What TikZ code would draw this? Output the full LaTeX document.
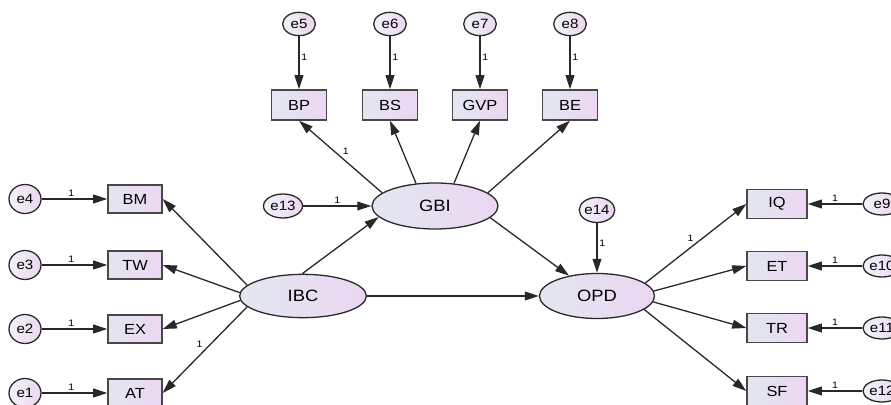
\documentclass[tikz,border=0pt]{standalone}
\usepackage{fontspec}
\setmainfont{Liberation Sans}[FakeStretch=1.12]
\usetikzlibrary{shapes,arrows.meta}
\definecolor{fillL}{RGB}{226,231,241}
\definecolor{fillR}{RGB}{236,214,241}
\definecolor{edge}{RGB}{40,40,40}
\tikzset{
	lat/.style={ellipse,draw=edge,line width=1.1pt,left color=fillL,right color=fillR,inner sep=0pt,minimum width=3.8cm,minimum height=1.3cm,font=\fontsize{14}{16}\selectfont},
	obs/.style={rectangle,draw=edge!85,line width=1.2pt,left color=fillL,right color=fillR,inner sep=0pt,minimum width=1.62cm,minimum height=0.84cm,font=\fontsize{12.5}{14}\selectfont},
	err/.style={ellipse,draw=edge,line width=1.1pt,left color=fillL!50!white,right color=fillR,inner sep=0pt,minimum width=0.96cm,minimum height=0.87cm,font=\fontsize{11.5}{13}\selectfont},
	arr/.style={-{Triangle[length=12pt,width=7.5pt]},line width=1.1pt,draw=edge},
	wt/.style={font=\fontsize{8}{9}\selectfont,inner sep=1.5pt}
}
\begin{document}
\begin{tikzpicture}[x=0.03cm,y=-0.03cm]
\useasboundingbox (0,0) rectangle (891,405);
\node[lat] (IBC) at (303,296) {IBC};
\node[lat,minimum width=3.78cm,minimum height=1.38cm] (GBI) at (435,206) {GBI};
\node[lat,minimum width=3.45cm,minimum height=1.35cm] (OPD) at (597,296) {OPD};
\node[obs] (BM) at (135,199) {BM};
\node[obs] (TW) at (135,265) {TW};
\node[obs] (EX) at (135,329) {EX};
\node[obs] (AT) at (135,393) {AT};
\node[err] (e4) at (25,199) {e4};
\node[err] (e3) at (25,265) {e3};
\node[err] (e2) at (25,329) {e2};
\node[err] (e1) at (25,393) {e1};
\node[obs,minimum width=1.65cm,minimum height=0.9cm] (BP) at (299,105) {BP};
\node[obs,minimum width=1.65cm,minimum height=0.9cm] (BS) at (390,105) {BS};
\node[obs,minimum width=1.65cm,minimum height=0.9cm] (GVP) at (480,105) {GVP};
\node[obs,minimum width=1.65cm,minimum height=0.9cm] (BE) at (570,105) {BE};
\node[err,minimum width=0.98cm,minimum height=0.7cm] (e5) at (299,24) {e5};
\node[err,minimum width=0.98cm,minimum height=0.7cm] (e6) at (390,24) {e6};
\node[err,minimum width=0.98cm,minimum height=0.7cm] (e7) at (480,24) {e7};
\node[err,minimum width=0.98cm,minimum height=0.7cm] (e8) at (570,24) {e8};
\node[err,minimum width=1.17cm,minimum height=0.72cm] (e13) at (283,206) {e13};
\node[err,minimum width=1.05cm,minimum height=0.75cm] (e14) at (597,210) {e14};
\node[obs,minimum width=1.8cm,minimum height=0.87cm] (IQ) at (777,204) {IQ};
\node[obs,minimum width=1.8cm,minimum height=0.87cm] (ET) at (777,266) {ET};
\node[obs,minimum width=1.8cm,minimum height=0.87cm] (TR) at (777,328) {TR};
\node[obs,minimum width=1.8cm,minimum height=0.87cm] (SF) at (777,391) {SF};
\node[err,minimum width=1.14cm,minimum height=0.66cm] (e9) at (882,204) {e9};
\node[err,minimum width=1.14cm,minimum height=0.66cm] (e10) at (882,266) {e10};
\node[err,minimum width=1.14cm,minimum height=0.66cm] (e11) at (882,328) {e11};
\node[err,minimum width=1.14cm,minimum height=0.66cm] (e12) at (882,391) {e12};
\draw[arr] (e4) -- node[wt,above,pos=0.45] {1} (BM);
\draw[arr] (e3) -- node[wt,above,pos=0.45] {1} (TW);
\draw[arr] (e2) -- node[wt,above,pos=0.45] {1} (EX);
\draw[arr] (e1) -- node[wt,above,pos=0.45] {1} (AT);
\draw[arr] (e5) -- node[wt,right,pos=0.4] {1} (BP);
\draw[arr] (e6) -- node[wt,right,pos=0.4] {1} (BS);
\draw[arr] (e7) -- node[wt,right,pos=0.4] {1} (GVP);
\draw[arr] (e8) -- node[wt,right,pos=0.4] {1} (BE);
\draw[arr] (e9) -- node[wt,above] {1} (IQ);
\draw[arr] (e10) -- node[wt,above] {1} (ET);
\draw[arr] (e11) -- node[wt,above] {1} (TR);
\draw[arr] (e12) -- node[wt,above] {1} (SF);
\draw[arr] (e13) -- node[wt,above] {1} (GBI);
\draw[arr] (e14) -- node[wt,right,pos=0.4] {1} (OPD);
\draw[arr] (IBC.169) -- (BM.east);
\draw[arr] (IBC.177) -- (TW.east);
\draw[arr] (IBC.184) -- (EX.east);
\draw[arr] (IBC.191) -- node[wt,above left] {1} (AT.east);
\draw[arr] (GBI.166) -- node[wt,above right] {1} (BP.south);
\draw[arr] (GBI.130) -- (BS.south);
\draw[arr] (GBI.50) -- (GVP.south);
\draw[arr] (GBI.14) -- (BE.south);
\draw[arr] (IBC.92) -- (GBI.191);
\draw[arr] (IBC) -- (OPD);
\draw[arr] (GBI.348) -- (OPD.144);
\draw[arr] (OPD.15) -- node[wt,above left] {1} (IQ.west);
\draw[arr] (OPD.5) -- (ET.west);
\draw[arr] (OPD.354) -- (TR.west);
\draw[arr] (OPD.344) -- (SF.west);
\end{tikzpicture}
\end{document}
